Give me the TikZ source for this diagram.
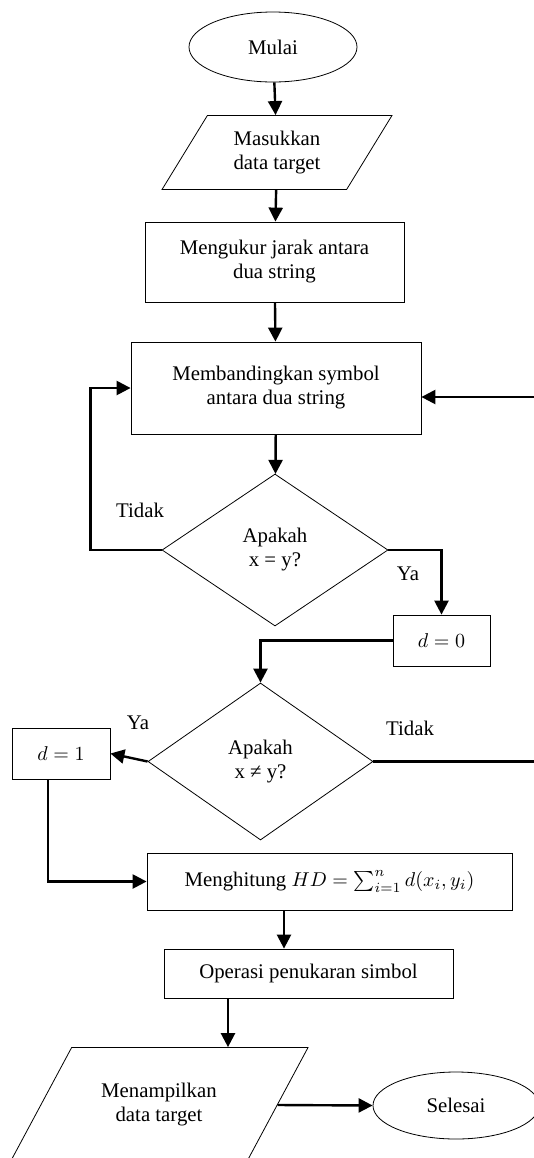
\documentclass[tikz,border=0pt]{standalone}
\usepackage{fontspec}
\setmainfont{Liberation Serif}
\usetikzlibrary{shapes.geometric,arrows.meta}
\tikzset{
  startstop/.style = {ellipse, draw, inner sep=0pt, align=center},
  io/.style        = {trapezium, draw, inner xsep=0pt, align=center,
                      trapezium stretches body},
  process/.style   = {rectangle, draw, inner sep=0pt, align=center},
  decision/.style  = {diamond, draw, inner sep=0pt, align=center},
  arrow/.style     = {line width=1.2pt, -{Triangle[length=7pt,width=7pt]}},
  lbl/.style       = {inner sep=0pt}
}

\begin{document}
\begin{tikzpicture}
  [
    x = 0.5pt, y = -0.5pt,
    every node/.style = {font=\fontsize{10.4}{12}\selectfont}
  ]
  \useasboundingbox (0,0) rectangle (534,1158);
  \clip (0,0) rectangle (534,1158);

  % shapes
  \node [startstop, minimum width=84pt, minimum height=35pt] (start) at (273,47) {Mulai};
  \node [io, trapezium left angle=58.5, trapezium right angle=121.5,
         inner ysep=7.8pt, minimum width=115pt] (in1) at (277,152.5) {Masukkan\\data target};
  \node [process, minimum width=129.5pt, minimum height=40pt] (proc1) at (274.5,262) {Mengukur jarak antara\\dua string};
  \node [process, minimum width=145pt, minimum height=46pt] (proc2) at (276,388) {Membandingkan symbol\\antara dua string};
  \node [decision, minimum width=113pt, minimum height=76pt] (dec1) at (275,550) {Apakah\\x = y?};
  \node [process, minimum width=48.5pt, minimum height=25.5pt] (d0) at (441.5,640.5) {$d = 0$};
  \node [decision, minimum width=112.5pt, minimum height=78.5pt] (dec2) at (260.5,761.5) {Apakah\\x ≠ y?};
  \node [process, minimum width=49pt, minimum height=25.5pt] (d1) at (61,753.5) {$d = 1$};
  \node [process, minimum width=182.5pt, minimum height=28.5pt] (proc3) at (329.5,881.5)
        {Menghitung $HD = \sum_{i=1}^{n} d(x_i,y_i)$};
  \node [process, minimum width=144.5pt, minimum height=24.5pt] (proc4) at (308.5,973.5) {Operasi penukaran simbol};
  \node [io, trapezium left angle=61.8, trapezium right angle=118.2,
         inner ysep=18pt, minimum width=149pt] (out1) at (159,1105) {Menampilkan\\data target};
  \node [startstop, minimum width=83pt, minimum height=33.5pt] (end) at (456,1105.5) {Selesai};

  % labels
  \node [lbl] (tidak1) at (140,510) {Tidak};
  \node [lbl] (ya1)    at (408,574) {Ya};
  \node [lbl] (ya2)    at (138,723) {Ya};
  \node [lbl] (tidak2) at (410,728) {Tidak};

  \coordinate (edge) at (545,0);
  \coordinate (c3) at ([xshift=-22.75pt]proc3.south);
  \coordinate (c4) at ([xshift=-40.25pt]proc4.south);

  % connectors
  \draw [arrow] (start) -- (in1);
  \draw [arrow] (in1) -- (proc1);
  \draw [arrow] (proc1) -- (proc2);
  \draw [arrow] (proc2) -- (dec1);
  \draw [arrow] (dec1.west) -- ++(-71,0) |- (proc2.west);
  \draw [arrow] (dec1.east) -| (d0.north);
  \draw [arrow] (d0.west) -| (dec2.north);
  \draw [arrow] (dec2.west) -- (d1.east);
  \draw [arrow] ([xshift=-6.5pt]d1.south) |- (proc3.west);
  \draw [arrow] (dec2.east) -- (dec2.east -| edge) |- ([yshift=-4.5pt]proc2.east);
  \draw [arrow] (c3) -- (c3 |- proc4.north);
  \draw [arrow] (c4) -- (c4 |- out1.north);
  \draw [arrow] (out1.east) -- (end.west);
\end{tikzpicture}
\end{document}
